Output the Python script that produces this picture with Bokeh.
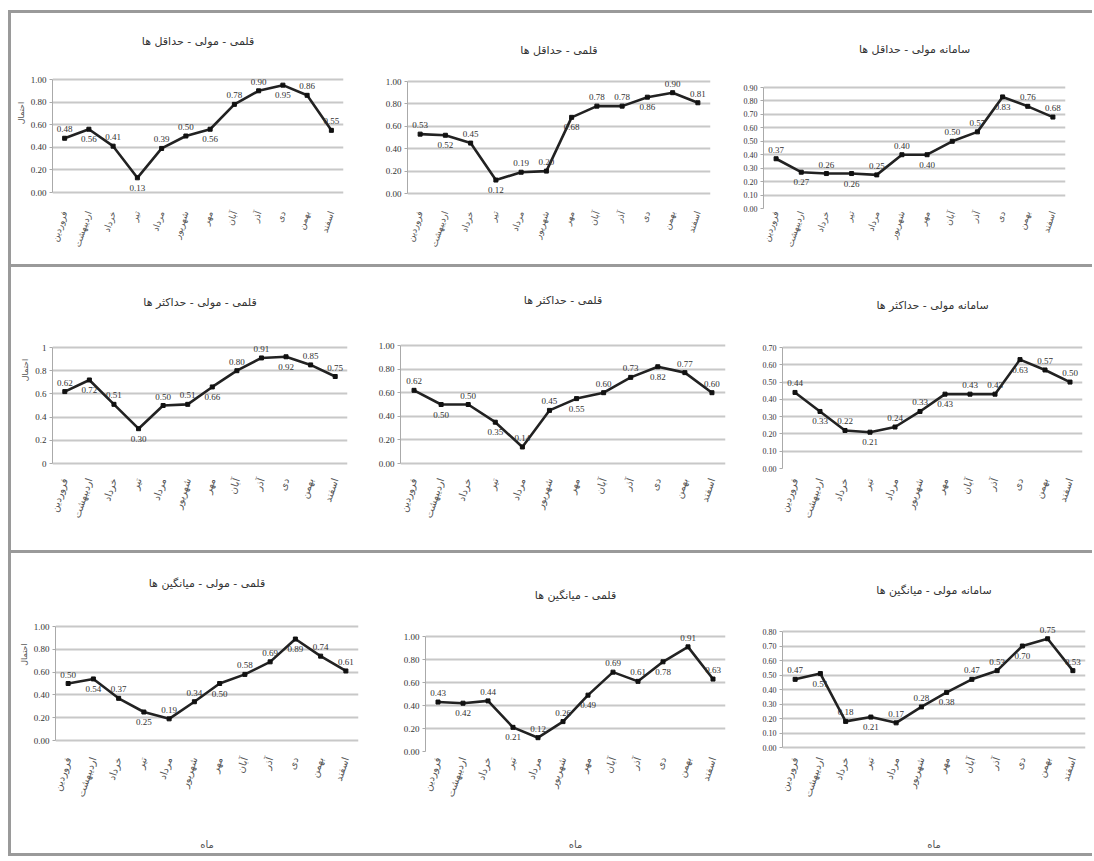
from bokeh.plotting import figure
from bokeh.layouts import row, column, Spacer
from bokeh.models import ColumnDataSource, FixedTicker, Range1d, FactorRange, PrintfTickFormatter, CustomJSTickFormatter
from bokeh.embed import file_html
from bokeh.resources import INLINE
from bokeh.core.properties import value

months = ["فروردین", "اردیبهشت", "خرداد", "تیر", "مرداد", "شهریور",
          "مهر", "آبان", "آذر", "دی", "بهمن", "اسفند"]

titles = ["قلمی - مولی - حداقل ها", "قلمی - حداقل ها", "سامانه مولی - حداقل ها",
          "قلمی - مولی - حداکثر ها", "قلمی - حداکثر ها", "سامانه مولی - حداکثر ها",
          "قلمی - مولی - میانگین ها", "قلمی - میانگین ها", "سامانه مولی - میانگین ها"]

s1 = [0.48, 0.56, 0.41, 0.13, 0.39, 0.50, 0.56, 0.78, 0.90, 0.95, 0.86, 0.55]
s2 = [0.53, 0.52, 0.45, 0.12, 0.19, 0.20, 0.68, 0.78, 0.78, 0.86, 0.90, 0.81]
s3 = [0.37, 0.27, 0.26, 0.26, 0.25, 0.40, 0.40, 0.50, 0.57, 0.83, 0.76, 0.68]
s4 = [0.62, 0.72, 0.51, 0.30, 0.50, 0.51, 0.66, 0.80, 0.91, 0.92, 0.85, 0.75]
s5 = [0.62, 0.50, 0.50, 0.35, 0.14, 0.45, 0.55, 0.60, 0.73, 0.82, 0.77, 0.60]
s6 = [0.44, 0.33, 0.22, 0.21, 0.24, 0.33, 0.43, 0.43, 0.43, 0.63, 0.57, 0.50]
s7 = [0.50, 0.54, 0.37, 0.25, 0.19, 0.34, 0.50, 0.58, 0.69, 0.89, 0.74, 0.61]
s8 = [0.43, 0.42, 0.44, 0.21, 0.12, 0.26, 0.49, 0.69, 0.61, 0.78, 0.91, 0.63]
s9 = [0.47, 0.51, 0.18, 0.21, 0.17, 0.28, 0.38, 0.47, 0.53, 0.70, 0.75, 0.53]
series = [s1, s2, s3, s4, s5, s6, s7, s8, s9]

y_max = [1.0, 1.0, 0.9, 1.0, 1.0, 0.7, 1.0, 1.0, 0.8]
y_step = [0.2, 0.2, 0.1, 0.2, 0.2, 0.1, 0.2, 0.2, 0.1]

# label side pattern (above / below)
label_side = ["a", "b", "a", "b", "a", "a", "b", "a", "a", "b", "a", "a"]

# ---- layout (pixels inside each figure) ----
col_w = [357, 362, 362]
row_h = [251, 283, 300]
row_frame_bottom = [195, 201, 198]
# (frame left, frame right, top-gridline y, zero y, title centre y)
frames = [
    (41, 25, 66, 179, 28), (39, 20, 68, 180, 37), (33, 27, 74, 195, 36),
    (41, 21, 80, 196, 35), (32, 5, 78, 196, 33), (52, 10, 80, 201, 38),
    (44, 10, 73, 187, 30), (57, 5, 83, 198, 42), (52, 7, 78, 194, 37),
]
FTOP = 4

figs = []
for i in range(9):
    r, c = divmod(i, 3)
    W, H = col_w[c], row_h[r]
    L, R, yt, y0, tc = frames[i]
    yb = row_frame_bottom[r]
    ymx = y_max[i]
    k = ymx / (y0 - yt)
    y_end = ymx + (yt - FTOP) * k
    y_start = -(yb - y0) * k
    y_title = ymx + (yt - tc) * k
    p = figure(width=W, height=H, x_range=FactorRange(*months), y_range=Range1d(y_start, y_end),
               output_backend="svg", toolbar_location=None, title=None,
               min_border_left=L, min_border_right=R, min_border_top=FTOP,
               min_border_bottom=H - yb)
    p.outline_line_color = None
    p.background_fill_color = "white"

    n = int(round(ymx / y_step[i]))
    ticks = [round(j * y_step[i], 2) for j in range(n + 1)]
    p.yaxis.ticker = FixedTicker(ticks=ticks)
    if i == 3:
        p.yaxis.formatter = CustomJSTickFormatter(code="return String(Math.round(tick*10)/10);")
    else:
        p.yaxis.formatter = PrintfTickFormatter(format="%.2f")
    p.yaxis.bounds = (0, ymx)
    p.yaxis.axis_line_color = "#aaaaaa"
    p.yaxis.major_tick_line_color = "#aaaaaa"
    p.yaxis.major_tick_out = 3
    p.yaxis.major_tick_in = 0
    p.yaxis.minor_tick_line_color = None
    p.yaxis.major_label_text_font = "Liberation Serif"
    p.yaxis.major_label_text_font_size = "8px" if y_step[i] < 0.15 else "9px"
    p.yaxis.major_label_text_color = "#333333"
    p.yaxis.major_label_standoff = 3

    p.xaxis.axis_line_color = None
    p.xaxis.major_tick_line_color = None
    p.xaxis.major_tick_out = 0
    p.xaxis.major_tick_in = 0
    p.xaxis.major_label_orientation = 1.25
    p.xaxis.major_label_text_font = "DejaVu Sans"
    p.xaxis.major_label_text_font_size = "9px" if r == 0 else "10px"
    p.xaxis.major_label_text_color = "#555555"
    p.xaxis.major_label_standoff = [3, 10, 6][r]

    p.xgrid.grid_line_color = None
    p.ygrid.grid_line_color = "#c8c8c8"
    p.ygrid.grid_line_width = 2

    if c == 0:
        p.yaxis.axis_label = "احتمال"
        p.yaxis.axis_label_text_font = "DejaVu Sans"
        p.yaxis.axis_label_text_font_size = "8px"
        p.yaxis.axis_label_text_font_style = "normal"
        p.yaxis.axis_label_text_color = "#555555"
        p.yaxis.axis_label_standoff = 2
    if r == 2:
        p.xaxis.axis_label = "ماه"
        p.xaxis.axis_label_text_font = "DejaVu Sans"
        p.xaxis.axis_label_text_font_size = "10px"
        p.xaxis.axis_label_text_font_style = "normal"
        p.xaxis.axis_label_text_color = "#555555"
        p.xaxis.axis_label_standoff = 36

    vals = series[i]
    src = ColumnDataSource(dict(
        m=months, v=vals,
        lab=["%.2f" % v for v in vals],
        yo=[-9 if s == "a" else 10 for s in label_side],
    ))
    p.line(x="m", y="v", source=src, line_color="#222222", line_width=2.6)
    p.scatter(x="m", y="v", source=src, marker="square", size=4, color="#111111")
    p.text(x="m", y="v", text="lab", y_offset="yo", source=src, text_align="center",
           text_baseline="middle", text_font=value("Liberation Serif"),
           text_font_size="9px", text_color="#333333")

    # chart title, centred over the plotting frame
    band = (W - L - R) / 12.0
    p.text(x=[months[5]], y=[y_title], text=[titles[i]], x_offset=band / 2,
           text_align="center", text_baseline="middle", text_font=value("DejaVu Sans"),
           text_font_size="11px", text_color="#333333")
    figs.append(p)

border = "3px solid #9a9a9a"
rows = [row(*figs[j * 3:(j + 1) * 3], styles={"border-top": border}) for j in range(3)]
inner = column(*rows, styles={"border-left": border, "border-bottom": border})
layout = column(Spacer(height=10), row(Spacer(width=8), inner))

open("out.html", "w").write(file_html(layout, INLINE))
